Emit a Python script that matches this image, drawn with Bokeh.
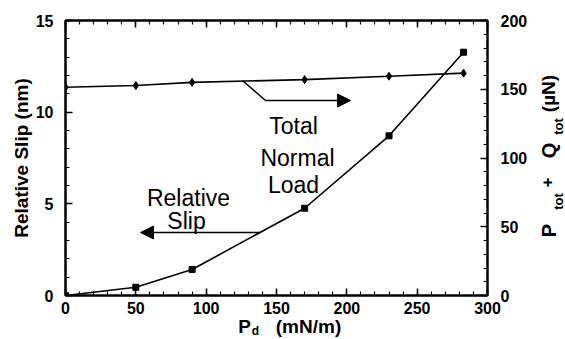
import math
from bokeh.plotting import figure
from bokeh.models import (Range1d, LinearAxis, FixedTicker, Label, Arrow, NormalHead)
from bokeh.core.properties import value
from bokeh.embed import file_html
from bokeh.resources import INLINE

# ---- data ----
pd_vals = [0, 50, 90, 170, 230, 283]                  # P_d (mN/m)
rel_slip = [0.0, 0.45, 1.42, 4.76, 8.71, 13.27]      # Relative slip (nm)
total_load = [151.5, 152.7, 155.0, 157.0, 159.5, 161.7]  # P_tot + Q_tot (uN)

x_ticks = [0, 50, 100, 150, 200, 250, 300]
x_minor = list(range(0, 301, 10))
yl_ticks = [0, 5, 10, 15]
yl_minor = list(range(0, 16, 1))
yr_ticks = [0, 50, 100, 150, 200]
yr_minor = list(range(0, 201, 10))

FONT = "Liberation Sans"
W, H = 565, 339
L, R, T, B = 65, 78, 20, 44
FW, FH = W - L - R, H - T - B

p = figure(width=W, height=H, output_backend="svg", toolbar_location=None,
           x_range=Range1d(0, 300), y_range=Range1d(0, 15),
           min_border_left=L, min_border_right=R, min_border_top=T, min_border_bottom=B)
p.extra_y_ranges = {"right": Range1d(0, 200)}
p.grid.visible = False
p.background_fill_color = "white"
p.border_fill_color = "white"
p.outline_line_color = "black"
p.outline_line_width = 2


def style_axis(ax, ticks, minor):
    ax.ticker = FixedTicker(ticks=ticks, minor_ticks=minor)
    ax.axis_line_width = 2
    ax.axis_line_color = "black"
    ax.major_tick_in = 7
    ax.major_tick_out = 0
    ax.minor_tick_in = 4
    ax.minor_tick_out = 0
    ax.major_tick_line_width = 1.5
    ax.minor_tick_line_width = 1.2
    ax.major_label_text_font = FONT
    ax.major_label_text_font_style = "bold"
    ax.major_label_text_font_size = "16px"
    ax.major_label_text_color = "black"


style_axis(p.xaxis[0], x_ticks, x_minor)
p.xaxis[0].major_label_standoff = 6
p.xaxis[0].axis_label = None

style_axis(p.yaxis[0], yl_ticks, yl_minor)
p.yaxis[0].major_label_standoff = 12
p.yaxis[0].axis_label = "Relative Slip (nm)"
p.yaxis[0].axis_label_text_font = FONT
p.yaxis[0].axis_label_text_font_style = "bold"
p.yaxis[0].axis_label_text_font_size = "19px"
p.yaxis[0].axis_label_text_color = "black"
p.yaxis[0].axis_label_standoff = 1

right_axis = LinearAxis(y_range_name="right", axis_label=None)
style_axis(right_axis, yr_ticks, yr_minor)
right_axis.major_label_standoff = 13
p.add_layout(right_axis, "right")

top_axis = LinearAxis(axis_label=None)
style_axis(top_axis, x_ticks, x_minor)
top_axis.major_label_overrides = {t: "" for t in x_ticks}
top_axis.major_label_standoff = 0
p.add_layout(top_axis, "above")

# ---- data marks ----
p.line(pd_vals, rel_slip, line_color="black", line_width=1.6)
p.scatter(pd_vals, rel_slip, marker="square", size=6, color="black")
p.line(pd_vals, total_load, y_range_name="right", line_color="black", line_width=1.6)
p.scatter(pd_vals, total_load, y_range_name="right", marker="diamond", size=8, color="black")


# ---- helpers for annotation placement (screen px -> data coords) ----
def xd(px):
    return (px - L) / FW * 300.0


def yd(py):
    return (T + FH - py) / FH * 15.0


def lab(text, px, py, size, style="normal", angle=0.0, align="center",
        baseline="middle"):
    p.add_layout(Label(x=xd(px), y=yd(py), text=text, angle=angle,
                       text_font=FONT, text_font_size=size, text_font_style=style,
                       text_align=align, text_baseline=baseline, text_color="black"))


def outside_text(text, px, py, size, angle=0.0):
    # text drawn outside the frame: glyph at overlay level
    p.text(x=[xd(px)], y=[yd(py)], text=[text], angle=angle, level="overlay",
           text_font=value(FONT), text_font_size=value(size), text_font_style="bold",
           text_align="center", text_baseline="middle", text_color="black")


# in-plot annotations
lab("Total", 293, 125, "23px", baseline="alphabetic")
lab("Normal", 297, 157, "23px", baseline="alphabetic")
lab("Load", 293, 184, "23px", baseline="alphabetic")
lab("Relative", 188, 197, "23px", baseline="alphabetic")
lab("Slip", 186, 220, "23px", baseline="alphabetic")

# Total Normal Load arrow (kinked)
p.line([xd(242), xd(265)], [yd(80), yd(100)], line_color="black", line_width=1.5)
p.add_layout(Arrow(x_start=xd(265), y_start=yd(100), x_end=xd(350), y_end=yd(100),
                   line_color="black", line_width=1.5,
                   end=NormalHead(size=13, fill_color="black", line_color="black")))
# Relative Slip arrow
p.add_layout(Arrow(x_start=xd(260), y_start=yd(232), x_end=xd(140), y_end=yd(232),
                   line_color="black", line_width=1.5,
                   end=NormalHead(size=13, fill_color="black", line_color="black")))

# axis titles outside the frame
rot = math.pi / 2
outside_text("P", 548, 230, "20px", rot)
outside_text("tot", 558, 201, "13px", rot)
outside_text("+", 546, 182, "17px", rot)
outside_text("Q", 548, 150, "20px", rot)
outside_text("tot", 558, 126, "13px", rot)
outside_text("(\u00b5N)", 548, 93, "19px", rot)

outside_text("P", 244, 326, "19px")
outside_text("d", 255, 330, "12px")
outside_text("(mN/m)", 308, 326, "19px")

open("out.html", "w").write(file_html(p, INLINE))
